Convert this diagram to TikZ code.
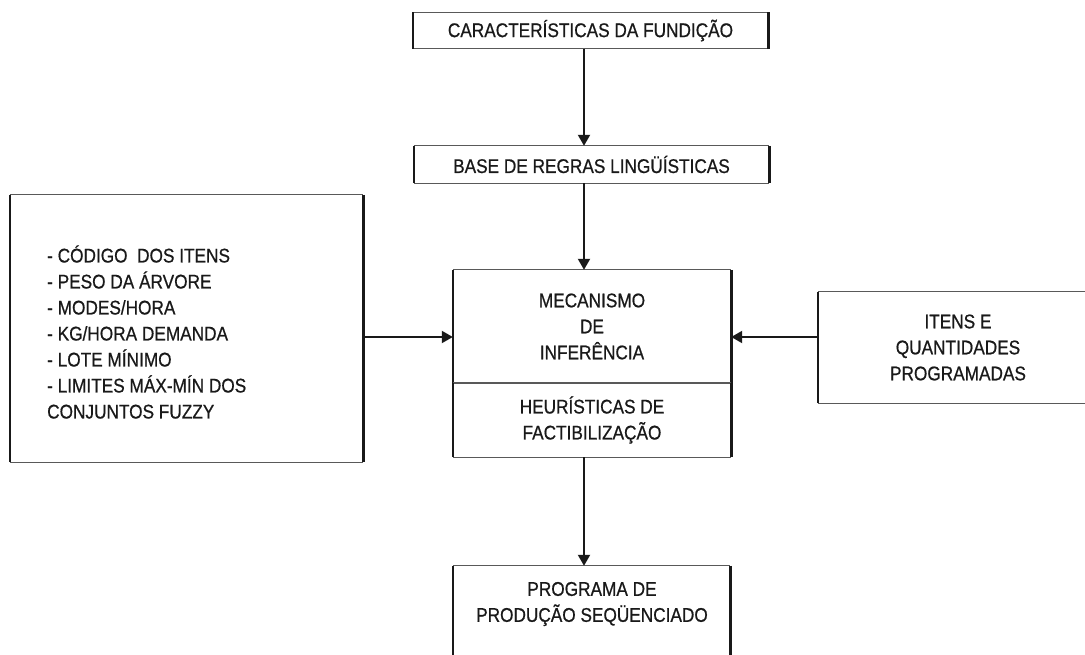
\documentclass[tikz,border=0pt]{standalone}
\usepackage{fontspec}
\setmainfont{Liberation Sans}[FakeStretch=0.87, FakeBold=0.7]
\usetikzlibrary{arrows.meta,positioning}

% frame of a box: thin top/bottom, heavy sides
\newcommand\framebx[1]{%
  \draw[hedge] (#1.north west) -- (#1.north east) (#1.south west) -- (#1.south east);
  \draw[vedge] (#1.north west) -- (#1.south west) (#1.north east) -- (#1.south east);}

\tikzset{
  box/.style={rectangle, inner sep=0pt, align=center, text=black!90},
  hedge/.style={line width=1.3pt, black!65},
  vedge/.style={line width=2.6pt, black!90},
  flow/.style={line width=2pt, black!90, -{Triangle[length=11pt,width=12pt]}}
}

\begin{document}
\begin{tikzpicture}[x=1pt, y=-1pt, font=\fontsize{19.8}{26}\selectfont]

  \clip (0,0) rectangle (1085,655);

  % Boxes
  \node[box, minimum width=355, minimum height=36] (carac) at (590.5,30.5) {CARACTERÍSTICAS DA FUNDIÇÃO};
  \node[box, minimum width=355, minimum height=37] (base) at (591.5,164.5) {BASE DE REGRAS LINGÜÍSTICAS};
  \node[box, minimum width=278, minimum height=113] (mec) at (592,326.5) {MECANISMO\\DE\\INFERÊNCIA};
  \node[box, minimum width=278, minimum height=74] (heur) at (592,420) {HEURÍSTICAS DE\\FACTIBILIZAÇÃO};
  \node[box, minimum width=353, minimum height=267] (esq) at (186.5,328.5) {};
  \node[box, minimum width=280, minimum height=111] (itens) at (958,347.5) {ITENS E\\QUANTIDADES\\PROGRAMADAS};
  \node[box, minimum width=277, minimum height=99] (saida) at (591.5,615.5) {};

  % Texts placed apart from their frames
  \node[box, align=left, anchor=west] (lista) at (47,332) {- CÓDIGO~ DOS ITENS\\- PESO DA ÁRVORE\\- MODES/HORA\\- KG/HORA DEMANDA\\- LOTE MÍNIMO\\- LIMITES MÁX-MÍN DOS\\CONJUNTOS FUZZY};
  \node[box] (prog) at (592,604) {PROGRAMA DE\\PRODUÇÃO SEQÜENCIADO};

  \foreach \b in {carac,base,mec,heur,esq,itens,saida}{
    \framebx{\b}
  }

  % Connectors
  \coordinate (inY) at (0,337);
  \draw[flow] ([xshift=-6.5pt]carac.south) -- ([xshift=-7.5pt]base.north);
  \draw[flow] ([xshift=-7.5pt]base.south) -- ([xshift=-8pt]mec.north);
  \draw[flow] (esq.east |- inY) -- (mec.west |- inY);
  \draw[flow] (itens.west |- inY) -- (mec.east |- inY);
  \draw[flow] ([xshift=-8pt]heur.south) -- ([xshift=-7.5pt]saida.north);

\end{tikzpicture}
\end{document}
